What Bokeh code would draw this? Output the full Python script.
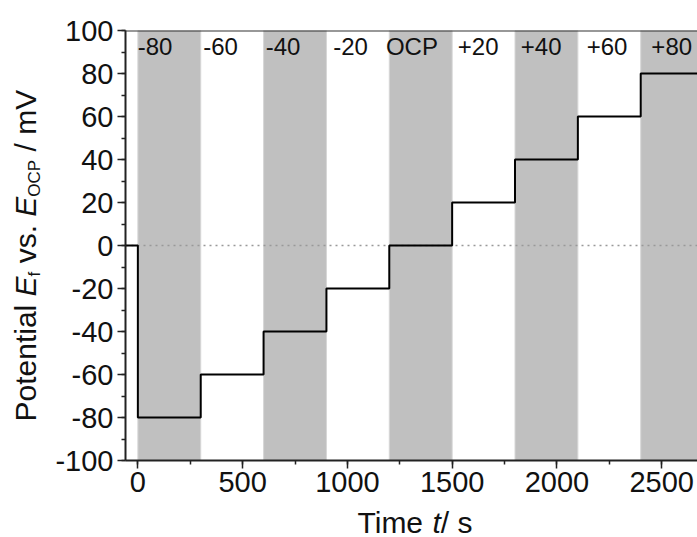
from math import pi

from bokeh.core.properties import value
from bokeh.embed import file_html
from bokeh.layouts import column, row
from bokeh.models import (ColumnDataSource, CustomJSTickFormatter, Range1d,
                          SingleIntervalTicker, Span)
from bokeh.plotting import figure
from bokeh.resources import INLINE

# Applied potential steps (mV vs. OCP), each held for 300 s
step_start = [0, 300, 600, 900, 1200, 1500, 1800, 2100, 2400]
step_potential = [-80, -60, -40, -20, 0, 20, 40, 60, 80]
step_names = ["-80", "-60", "-40", "-20", "OCP", "+20", "+40", "+60", "+80"]
hold_duration = 300

# Open-circuit hold before the first step and the end of the record
t_pre = -59
t_end = 2671
e_min, e_max = -100, 100

FONT = "Liberation Sans"
INK = "#111111"

# Page geometry (pixels)
W, H = 697, 537
Y_TITLE_W = 50          # strip holding the rotated y-axis title
X_TITLE_H = 30          # strip holding the x-axis title
MAIN_W = W - Y_TITLE_W
MAIN_H = H - X_TITLE_H
P_TOP, P_BOTTOM = 30, 47

# Text anchors sit about this fraction of the font size above the baseline
ANCHOR_RISE = 0.35

# ---------------------------------------------------------------- main plot
p = figure(
    width=MAIN_W, height=MAIN_H,
    x_range=Range1d(t_pre, t_end), y_range=Range1d(e_min, e_max),
    output_backend="svg", toolbar_location=None,
    min_border_left=75, min_border_right=0,
    min_border_top=P_TOP, min_border_bottom=P_BOTTOM,
)
p.outline_line_color = None
p.grid.visible = False
p.background_fill_color = "white"
p.border_fill_color = "white"

# Shaded bands on every other potential step
band_left = step_start[::2]
band_right = [s + hold_duration for s in band_left]
p.quad(left=band_left, right=band_right, bottom=e_min, top=e_max,
       fill_color="#c0c0c0", line_color="#d6d6d6", line_width=1)

# Dotted zero reference
p.line(x=[t_pre, t_end], y=[0, 0], line_color="#999999",
       line_width=1.4, line_dash="2 4")

# Staircase potential program
t_steps = [t_pre] + step_start + [t_end]
e_steps = [0] + step_potential + [step_potential[-1]]
p.step(x=t_steps, y=e_steps, mode="after", line_color="black", line_width=2)

# Step names along the top
name_x = [82, 395, 693, 1015, 1308, 1624, 1925, 2239, 2548]
name_src = ColumnDataSource(dict(x=name_x, y=[92.5] * len(name_x), text=step_names))
p.text(x="x", y="y", text="text", source=name_src,
       text_font=value(FONT), text_font_size="24px", text_color=INK,
       text_align="center", text_baseline="alphabetic")

# Top frame line
p.add_layout(Span(location=e_max, dimension="width", line_color="#333333", line_width=2))

# Axes
plain_ticks = CustomJSTickFormatter(code="return tick.toString();")
for ax in (p.xaxis[0], p.yaxis[0]):
    ax.axis_line_width = 2
    ax.axis_line_color = "#222222"
    ax.major_tick_line_color = "#222222"
    ax.minor_tick_line_color = "#222222"
    ax.major_tick_line_width = 1.5
    ax.minor_tick_line_width = 1.5
    ax.major_tick_in = 0
    ax.major_tick_out = 8
    ax.minor_tick_in = 0
    ax.minor_tick_out = 4
    ax.major_label_text_font = FONT
    ax.major_label_text_font_size = "29px"
    ax.major_label_text_color = INK
    ax.formatter = plain_ticks

p.xaxis.ticker = SingleIntervalTicker(interval=500, num_minor_ticks=2)
p.yaxis.ticker = SingleIntervalTicker(interval=20, num_minor_ticks=2)
p.xaxis.major_label_standoff = 3
p.yaxis.major_label_standoff = 4

# ---------------------------------------------------------------- axis titles
# Advance widths (em) of Liberation Sans, used to set runs of mixed-style text
ADV = {"P": .667, "o": .556, "t": .278, "e": .556, "n": .556, "i": .222, "a": .556,
       "l": .222, " ": .278, "E": .667, "f": .278, "v": .5, "s": .5, ".": .278,
       "O": .778, "C": .722, "/": .278, "m": .833, "V": .667, "T": .611}

TITLE_SIZE = 30
SUB_SIZE = 17
SUB_DROP = 5


def advance(text, size):
    return sum(ADV.get(ch, .556) for ch in text) * size


def set_runs(runs):
    """Place runs of (text, size, italic, subscript, gap_after) one after another.
    Returns the offset of each run along the reading direction and its rise
    (anchor height above the main baseline)."""
    along, rise = [], []
    cursor = 0.0
    for text, size, italic, sub, gap in runs:
        along.append(cursor)
        rise.append((-SUB_DROP if sub else 0) + ANCHOR_RISE * size)
        cursor += advance(text, size) + (ADV[" "] * TITLE_SIZE if gap else 0)
    return along, rise


def title_strip(width, height, x_span, y_span):
    """Axis-free strip; its spans are given in pixels of the strip's own canvas."""
    f = figure(width=width, height=height,
               x_range=Range1d(*x_span), y_range=Range1d(*y_span),
               x_axis_type=None, y_axis_type=None,
               output_backend="svg", toolbar_location=None, min_border=0)
    f.outline_line_color = None
    f.grid.visible = False
    f.background_fill_color = "white"
    f.border_fill_color = "white"
    return f


def draw_runs(fig, runs, xs, ys, angle):
    fig.text(
        x=xs, y=ys, text=[r[0] for r in runs], angle=angle,
        text_font=value(FONT),
        text_font_size=[f"{r[1]}px" for r in runs],
        text_font_style=["italic" if r[2] else "normal" for r in runs],
        text_color=INK, text_align="left", text_baseline="alphabetic",
    )


# y-axis title: Potential E_f vs. E_OCP / mV, reading upward.
# The strip sits beside the plot in a row, so its plotting area lines up with
# the plot's frame; its y span is therefore the frame's pixel extent.
y_runs = [
    ("Potential", TITLE_SIZE, False, False, True),
    ("E", TITLE_SIZE, True, False, False),
    ("f", SUB_SIZE, False, True, True),
    ("vs.", TITLE_SIZE, False, False, True),
    ("E", TITLE_SIZE, True, False, False),
    ("OCP", SUB_SIZE, False, True, True),
    ("/ mV", TITLE_SIZE, False, False, False),
]
y_along, y_rise = set_runs(y_runs)
y_baseline = 35              # px from the page's left edge
y_start = MAIN_H - 421       # px up from the strip's bottom edge
yt = title_strip(Y_TITLE_W, MAIN_H, (0, Y_TITLE_W), (P_BOTTOM, MAIN_H - P_TOP))
# rotated a quarter turn, "up" for the text points to the left
draw_runs(yt, y_runs,
          [y_baseline - r for r in y_rise],
          [y_start + a for a in y_along], pi / 2)

# x-axis title: Time t / s, in a strip spanning the page width
x_runs = [
    ("Time", TITLE_SIZE, False, False, True),
    ("t", TITLE_SIZE, True, False, False),
    ("/ s", TITLE_SIZE, False, False, False),
]
x_along, x_rise = set_runs(x_runs)
x_start = 357                # px from the page's left edge
x_baseline = H - 532         # px up from the strip's bottom edge
xt = title_strip(W, X_TITLE_H, (0, W), (0, X_TITLE_H))
draw_runs(xt, x_runs, [x_start + a for a in x_along],
          [x_baseline + r for r in x_rise], 0.0)

page = column(row(yt, p, spacing=0), xt, spacing=0)
open("out.html", "w").write(file_html(page, INLINE))
